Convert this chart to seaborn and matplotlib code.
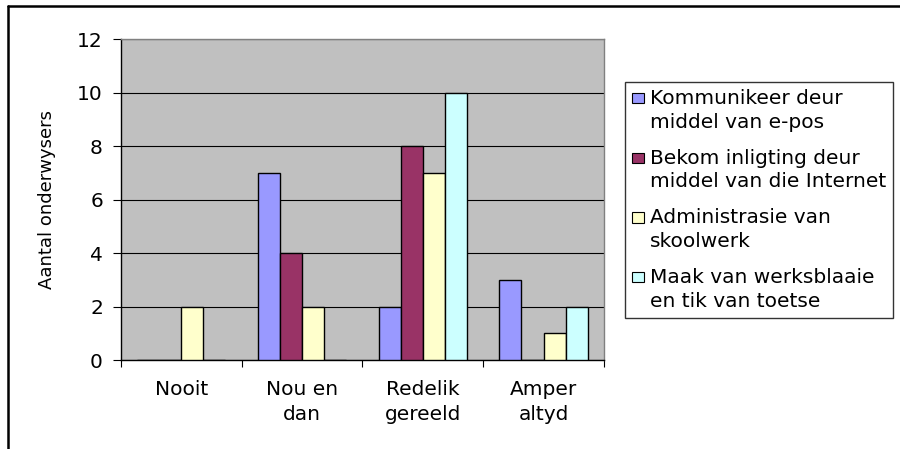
import pandas as pd
import seaborn as sns
import matplotlib.pyplot as plt
from matplotlib.lines import Line2D
from matplotlib.patches import Patch, Rectangle
from matplotlib.legend_handler import HandlerPatch

sns.set_theme(style='white')
plt.rcParams['font.family'] = ['DejaVu Sans']
plt.rcParams['text.color'] = 'black'
plt.rcParams['axes.labelcolor'] = 'black'
plt.rcParams['xtick.color'] = 'black'
plt.rcParams['ytick.color'] = 'black'

categories = ['Nooit', 'Nou en\ndan', 'Redelik\ngereeld', 'Amper\naltyd']
series = ['Kommunikeer deur\nmiddel van e-pos',
          'Bekom inligting deur\nmiddel van die Internet',
          'Administrasie van\nskoolwerk',
          'Maak van werksblaaie\nen tik van toetse']
kommunikeer = [0, 7, 2, 3]
bekom = [0, 4, 8, 0]
administrasie = [2, 2, 7, 1]
maak = [0, 0, 10, 2]
colors = ['#9999FF', '#993366', '#FFFFCC', '#CCFFFF']

rows = []
for s, vals in zip(series, [kommunikeer, bekom, administrasie, maak]):
    for c, v in zip(categories, vals):
        rows.append({'cat': c, 'series': s, 'value': v})
df = pd.DataFrame(rows)

fig = plt.figure(figsize=(9, 4.49), dpi=100)
ax = fig.add_axes([0.1344, 0.198, 0.5366, 0.715])
ax.set_facecolor('#C0C0C0')

sns.barplot(data=df, x='cat', y='value', hue='series', palette=colors,
            saturation=1, width=0.73, gap=0, edgecolor='black', linewidth=1,
            ax=ax, legend=False, zorder=3)

ax.set_ylim(0, 12)
ax.set_yticks(range(0, 13, 2))
ax.set_xlim(-0.5, 3.5)
ax.grid(axis='y', color='black', linewidth=0.8, zorder=0)
ax.set_axisbelow(True)
ax.set_xlabel('')
ax.set_ylabel('Aantal onderwysers', fontsize=13, labelpad=15)

ax.set_xticks([-0.5, 0.5, 1.5, 2.5, 3.5])
ax.set_xticklabels([])
ax.set_xticks(range(4), labels=categories, minor=True)
for t in ax.get_xticklabels(minor=True):
    t.set_linespacing(1.45)
ax.tick_params(axis='x', which='major', length=5, width=0.8, color='black', direction='out', bottom=True)
ax.tick_params(axis='x', which='minor', length=0, pad=14, labelsize=14.5)
ax.tick_params(axis='y', length=6, width=0.8, color='black', direction='out', left=True, labelsize=14.5, pad=7)

for side in ['left', 'bottom']:
    ax.spines[side].set_color('black')
    ax.spines[side].set_linewidth(1)
for side in ['top', 'right']:
    ax.spines[side].set_color('#808080')
    ax.spines[side].set_linewidth(1)


# legend marker sits beside the first line of each two-line label
def top_square(legend, orig_handle, xdescent, ydescent, width, height, fontsize):
    return Rectangle((-xdescent, -ydescent + 0.62 * fontsize), width, height)


handles = [Patch(facecolor=c, edgecolor='black', linewidth=0.8) for c in colors]
leg = fig.legend(handles, series, loc='upper left', bbox_to_anchor=(0.694, 0.817),
                 frameon=True, fancybox=False, edgecolor='black', fontsize=14.5,
                 handlelength=0.6, handleheight=0.4, handletextpad=0.3,
                 labelspacing=0.85, borderpad=0.35, borderaxespad=0,
                 handler_map={Patch: HandlerPatch(patch_func=top_square)})
leg.get_frame().set_linewidth(1)
for t in leg.get_texts():
    t.set_linespacing(1.3)

# outer chart frame (top and left edges)
fig.add_artist(Line2D([0.009, 1.0], [0.987, 0.987], color='black', linewidth=1.8, transform=fig.transFigure))
fig.add_artist(Line2D([0.009, 0.009], [0.0, 0.987], color='black', linewidth=1.8, transform=fig.transFigure))

fig.savefig('out.png', dpi=100)
